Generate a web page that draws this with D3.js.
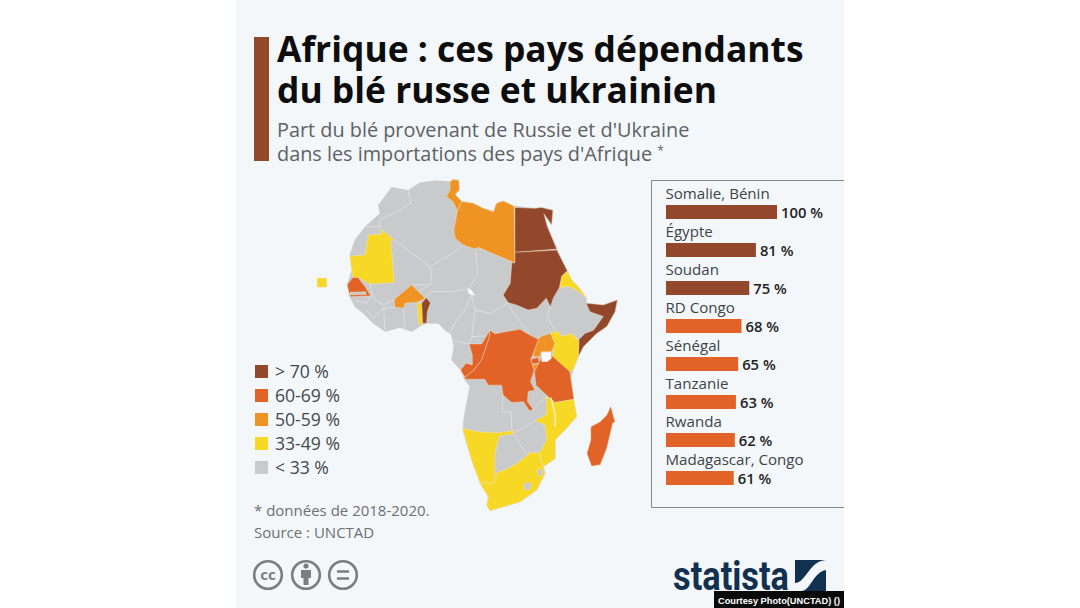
<!DOCTYPE html>
<html lang="fr">
<head>
<meta charset="utf-8">
<title>Afrique : blé russe et ukrainien</title>
<script src="https://cdn.jsdelivr.net/npm/d3@7/dist/d3.min.js"></script>
<style>
html, body { margin: 0; padding: 0; background: #fff; }
svg { display: block; }
text { font-family: "Open Sans", sans-serif; }
.map { filter: blur(0.45px); }
</style>
</head>
<body>
<div class="chart"></div>
<script>
// ---- data ----
var categories = ['Somalie, Bénin', 'Égypte', 'Soudan', 'RD Congo', 'Sénégal', 'Tanzanie', 'Rwanda', 'Madagascar, Congo']
var values = [100, 81, 75, 68, 65, 63, 62, 61]

var legendLabels = ['> 70 %', '60-69 %', '50-59 %', '33-49 %', '< 33 %']
var legendValues = [75, 65, 55, 40, 20]

// map outlines, as [lon, lat]
var africa = [[-6.3,35.7],[-2.1,35.0],[0.9,36.7],[5.2,37.15],[8.6,36.9],[9.4,37.4],[10.7,37.3],[11.0,35.1],[9.9,34.0],[11.6,32.6],[14.6,32.2],[17.1,31.1],[19.7,30.4],[20.5,32.2],[22.2,32.7],[24.8,31.6],[30.3,31.1],[32.0,31.3],[34.9,30.7],[34.6,27.5],[32.6,29.9],[33.5,27.1],[35.9,22.4],[37.2,19.8],[38.6,17.5],[39.7,15.5],[41.8,13.6],[43.5,11.5],[43.4,10.4],[47.8,10.0],[51.4,11.1],[50.8,8.5],[48.7,5.3],[46.1,3.8],[42.7,0.9],[41.4,-1.3],[40.1,-4.2],[39.5,-6.0],[40.1,-10.4],[41.0,-14.4],[38.4,-16.9],[35.5,-19.5],[35.5,-23.5],[32.5,-25.3],[32.9,-26.8],[30.8,-30.4],[26.5,-33.0],[18.8,-34.9],[18.0,-33.7],[18.4,-31.9],[16.3,-28.9],[14.1,-23.8],[12.0,-17.7],[12.0,-16.2],[12.2,-14.4],[13.7,-7.8],[12.4,-6.4],[11.3,-4.2],[9.0,-2.0],[9.6,0.9],[9.0,3.4],[8.6,3.8],[7.3,4.5],[5.6,6.0],[2.6,6.0],[1.4,5.6],[-1.2,4.2],[-4.2,5.1],[-8.0,4.2],[-11.0,6.0],[-13.6,8.2],[-15.7,9.6],[-17.0,11.8],[-17.7,14.4],[-16.5,17.6],[-17.0,20.9],[-15.7,24.2],[-13.1,27.1],[-9.3,30.0],[-9.7,31.8]]

var mauritania = [[-17.0,20.7],[-13.1,20.9],[-12.3,25.3],[-8.9,25.5],[-8.9,26.5],[-5.9,24.3],[-6.6,24.0],[-5.6,14.9],[-11.9,14.6],[-14.9,16.0],[-16.3,16.0],[-16.5,17.6]]
var senegal = [[-16.3,16.0],[-14.9,16.0],[-13.1,14.0],[-11.7,12.0],[-17.0,11.8],[-17.7,14.4]]
var gambia = [[-17.0,12.8],[-12.9,12.9],[-12.9,12.3],[-17.0,12.2]]
var burkina = [[-1.2,14.4],[0.5,12.9],[2.2,11.5],[0.2,10.6],[-2.9,10.4],[-3.3,9.3],[-5.5,9.5],[-5.7,11.2],[-3.3,12.9]]
var togo = [[0.2,10.4],[1.35,10.5],[1.6,5.9],[0.6,5.7]]
var benin = [[2.5,11.6],[3.6,10.5],[2.8,8.5],[2.6,6.0],[1.6,6.0],[1.35,10.4]]
var tunisia = [[8.6,36.9],[9.4,37.4],[10.9,37.2],[11.0,35.1],[9.9,34.2],[11.6,32.6],[10.5,30.6],[9.3,32.6],[7.7,33.7],[8.6,35.1]]
var libya = [[11.6,32.6],[14.6,32.2],[17.1,31.1],[19.7,30.4],[20.5,32.2],[22.2,32.7],[25.0,31.6],[25.2,19.2],[23.5,19.8],[15.8,22.6],[15.0,22.2],[12.0,23.1],[9.9,24.6],[9.6,26.4],[10.5,30.6]]
var egypt = [[25.2,31.3],[30.3,31.1],[32.0,31.3],[34.9,30.7],[34.6,27.5],[32.6,29.9],[33.5,27.1],[35.9,22.2],[25.2,21.5]]
var sudan = [[25.2,21.5],[35.9,22.0],[37.2,19.8],[38.6,17.5],[37.2,16.3],[36.6,13.9],[35.0,11.5],[34.3,9.6],[33.2,11.5],[30.8,9.3],[28.6,8.9],[25.6,10.0],[23.5,10.5],[22.2,12.2],[24.0,14.7],[24.4,19.2],[25.2,19.2]]
var eritrea = [[38.6,17.3],[39.7,15.5],[41.8,13.6],[43.5,11.5],[41.2,13.1],[39.3,14.0],[36.7,13.9],[37.2,16.3]]
var somalia = [[43.4,10.4],[47.8,10.0],[51.4,11.1],[50.8,8.5],[48.7,5.3],[46.1,3.8],[42.7,0.9],[41.4,-1.3],[41.4,2.0],[41.5,2.4],[43.1,3.8],[45.3,4.5],[47.8,7.5],[44.4,8.5]]
var kenya = [[34.3,3.95],[36.3,4.2],[36.9,3.2],[39.7,3.7],[41.6,2.2],[41.4,-1.3],[40.1,-4.2],[39.3,-4.6],[34.6,-1.9],[35.0,0.2],[35.45,1.6]]
var uganda = [[31.2,2.7],[32.0,3.2],[34.3,3.8],[35.45,1.6],[34.6,-0.2],[32.0,-0.2],[31.6,-1.3],[29.9,-1.3],[30.1,-0.2]]
var rwanda = [[29.2,-1.9],[31.2,-1.4],[31.4,-2.7],[29.7,-2.9]]
var burundi = [[29.7,-3.0],[31.2,-2.9],[30.8,-4.2],[30.1,-4.3]]
var congo = [[18.8,4.5],[18.7,3.1],[18.0,1.3],[16.7,-2.0],[14.6,-4.3],[12.4,-5.8],[11.3,-4.2],[12.7,-2.7],[14.3,-3.1],[14.3,-0.9],[13.5,1.5],[16.7,1.5]]
var drc = [[18.8,4.5],[20.1,3.7],[23.1,4.2],[26.5,4.7],[29.1,3.4],[31.2,2.5],[29.9,-0.6],[29.2,-1.9],[29.7,-3.1],[30.1,-4.3],[29.2,-6.7],[30.3,-8.6],[28.6,-8.9],[28.4,-11.1],[29.9,-12.8],[28.9,-13.1],[27.4,-11.1],[24.4,-11.3],[22.2,-9.7],[21.8,-7.5],[18.4,-7.5],[17.5,-6.2],[12.4,-6.2],[12.4,-5.8],[14.6,-4.3],[16.7,-2.0],[18.0,1.3],[18.7,3.1]]
var tanzania = [[34.6,-1.0],[39.3,-4.6],[39.5,-6.0],[40.3,-10.6],[35.45,-11.3],[33.3,-9.7],[30.6,-7.5],[30.2,-4.6],[31.2,-2.9],[32.0,-1.3]]
var mozambique = [[33.3,-9.9],[35.45,-11.3],[40.3,-10.6],[41.0,-14.4],[38.4,-16.9],[35.5,-19.5],[35.5,-23.5],[32.5,-25.3],[31.4,-22.4],[33.3,-19.5],[32.9,-16.2],[30.3,-15.3],[33.2,-14.0]]
var namibia = [[11.8,-16.9],[15.8,-17.7],[21.0,-17.9],[24.8,-17.4],[24.6,-18.2],[21.2,-18.6],[20.1,-22.4],[20.1,-28.9],[16.3,-28.9],[14.1,-23.8]]
var southAfrica = [[20.5,-26.6],[23.5,-25.7],[26.9,-23.9],[29.1,-22.2],[31.4,-22.3],[32.3,-25.3],[32.9,-26.8],[30.8,-30.4],[26.5,-33.0],[18.8,-34.9],[18.0,-33.7],[18.4,-31.9],[16.3,-28.9],[20.1,-28.9]]
var eswatini = [[30.9,-26.0],[31.6,-25.7],[32.4,-26.4],[32.0,-27.3],[31.2,-27.3]]
var lesotho = [[27.4,-29.3],[28.4,-28.6],[29.5,-29.1],[28.9,-30.4],[27.8,-30.4]]
var madagascar = [[49.7,-12.1],[50.8,-15.5],[50.2,-15.8],[48.7,-21.3],[47.0,-24.9],[44.8,-25.2],[43.6,-22.4],[44.6,-19.5],[44.6,-16.6],[47.0,-15.5],[48.7,-14.0]]
var capeVerde = [[-25.4,15.9],[-22.9,15.9],[-22.9,13.9],[-25.4,13.9]]

var lakeVictoria = [[32.0,-0.3],[34.3,-0.3],[34.6,-1.65],[33.5,-2.4],[32.0,-2.4]]
var lakeChad = [[13.1,13.6],[14.1,13.3],[15.0,12.0],[14.1,12.2],[13.3,12.6]]
var lakes = [lakeVictoria, lakeChad]

// share of wheat per country. outside the bar list these are guessed from the legend class
var countries = [
    {shape: mauritania, share: 40}, {shape: senegal, share: 65}, {shape: gambia, share: 20},
    {shape: burkina, share: 55}, {shape: togo, share: 40}, {shape: benin, share: 100},
    {shape: tunisia, share: 55}, {shape: libya, share: 55}, {shape: egypt, share: 81},
    {shape: sudan, share: 75}, {shape: eritrea, share: 40}, {shape: somalia, share: 100},
    {shape: kenya, share: 40}, {shape: uganda, share: 55}, {shape: rwanda, share: 62},
    {shape: burundi, share: 55}, {shape: congo, share: 61}, {shape: drc, share: 68},
    {shape: tanzania, share: 63}, {shape: mozambique, share: 40}, {shape: namibia, share: 40},
    {shape: southAfrica, share: 40}, {shape: eswatini, share: 20}, {shape: lesotho, share: 20},
    {shape: madagascar, share: 61}, {shape: capeVerde, share: 40}
]

// borders between the grey countries
var borders = [
    [[-2.1,35.0],[-1.4,32.2],[-5.0,30.4],[-9.3,28.6],[-9.3,26.5]],
    [[-13.1,27.1],[-8.9,27.1]],
    [[-5.9,24.3],[3.5,18.4],[11.6,22.6],[12.0,23.1]],
    [[3.5,18.4],[3.9,16.2],[3.5,14.4],[0.5,12.9]],
    [[-1.2,14.4],[3.5,14.4]],
    [[-11.9,14.6],[-11.0,11.5],[-8.4,10.0],[-5.7,11.2]],
    [[2.5,11.6],[3.9,12.9],[9.4,12.9],[13.7,13.6]],
    [[15.0,22.2],[15.8,16.9],[13.3,13.3]],
    [[14.1,12.2],[12.4,8.9],[10.3,6.7],[8.6,3.8]],
    [[14.1,12.2],[15.0,8.9],[18.8,8.2],[23.5,10.5]],
    [[15.0,8.9],[14.2,3.1],[13.5,1.5]],
    [[9.0,2.35],[13.5,1.5]],
    [[14.2,3.1],[18.8,3.3]],
    [[-3.3,9.3],[-2.9,4.7]],
    [[-5.5,9.5],[-8.4,9.3],[-8.0,4.2]],
    [[-8.4,9.3],[-11.0,7.1],[-13.0,9.0]],
    [[-15.7,11.0],[-12.7,10.4],[-11.7,12.0]],
    [[34.3,9.6],[33.3,7.5],[35.9,3.8],[34.3,3.95]],
    [[35.9,3.8],[31.2,2.7]],
    [[23.5,10.5],[24.8,8.2],[28.2,4.5],[29.1,3.4]],
    [[41.5,2.4],[39.7,3.7]],
    [[22.2,-9.7],[21.8,-13.3],[24.2,-13.3],[24.4,-17.3]],
    [[24.6,-18.0],[27.8,-16.6],[30.3,-15.3]],
    [[25.2,-18.4],[27.8,-22.4],[29.1,-22.2]],
    [[28.9,-13.1],[29.9,-12.8],[33.3,-9.9]],
    [[34.4,-10.2],[35.5,-14.0],[35.5,-16.6]]
]

// ---- page ----
var width = 1080, height = 608
var brown = '#93482c', red = '#e26328', orange = '#ef9324', yellow = '#f7d824', grey = '#c9cacb'
var navy = '#12304f'

var svg = d3.select('.chart')
    .append('svg')
    .attr('width', width)
    .attr('height', height)

svg.append('rect')
    .attr('x', 236)
    .attr('y', 0)
    .attr('width', 608)
    .attr('height', height)
    .attr('fill', '#f4f7fa')

// title block
svg.append('rect')
    .attr('x', 254)
    .attr('y', 37)
    .attr('width', 15)
    .attr('height', 124)
    .attr('fill', brown)

var titleLines = ['Afrique : ces pays dépendants', 'du blé russe et ukrainien']
svg.selectAll('.title')
    .data(titleLines)
    .enter()
    .append('text')
    .attr('class', 'title')
    .attr('x', 277)
    .attr('y', function (d, i) { return 62 + i * 41 })
    .attr('font-size', 35.4)
    .attr('font-weight', 700)
    .attr('fill', '#0d0d0d')
    .text(function (d) { return d })

svg.append('text')
    .attr('x', 277)
    .attr('y', 137)
    .attr('font-size', 19.85)
    .attr('fill', '#5c6165')
    .text("Part du blé provenant de Russie et d'Ukraine")

var sub2 = svg.append('text')
    .attr('x', 277)
    .attr('y', 161)
    .attr('font-size', 19.85)
    .attr('fill', '#5c6165')
    .text("dans les importations des pays d'Afrique ")
sub2.append('tspan')
    .attr('font-size', 12)
    .attr('dy', -6)
    .text('*')

// ---- map ----
var colorScale = d3.scaleThreshold()
    .domain([33, 50, 60, 70])
    .range([grey, yellow, orange, red, brown])

var lonScale = d3.scaleLinear().domain([-20, 50]).range([338.2, 611.9])
var latScale = d3.scaleLinear().domain([-30, 30]).range([488.2, 213.4])

var outline = d3.line()
    .x(function (d) { return lonScale(d[0]) })
    .y(function (d) { return latScale(d[1]) })

function closedPath(d) {
    return outline(d) + 'Z'
}

var map = svg.append('g').attr('class', 'map')

map.append('path')
    .attr('d', closedPath(africa))
    .attr('fill', grey)
    .attr('stroke', grey)
    .attr('stroke-width', 0.6)
    .attr('stroke-linejoin', 'round')

map.selectAll('.border')
    .data(borders)
    .enter()
    .append('path')
    .attr('class', 'border')
    .attr('d', outline)
    .attr('fill', 'none')
    .attr('stroke', '#e2e5e8')
    .attr('stroke-width', 0.7)

map.selectAll('.country')
    .data(countries)
    .enter()
    .append('path')
    .attr('class', 'country')
    .attr('d', function (d) { return closedPath(d.shape) })
    .attr('fill', function (d) { return colorScale(d.share) })
    .attr('stroke', '#f6e9c8')
    .attr('stroke-width', 0.4)
    .attr('stroke-linejoin', 'round')

map.selectAll('.lake')
    .data(lakes)
    .enter()
    .append('path')
    .attr('class', 'lake')
    .attr('d', closedPath)
    .attr('fill', '#f8fafc')

// lake Malawi sits on top of the yellow
map.append('path')
    .attr('d', outline(borders[borders.length - 1]))
    .attr('fill', 'none')
    .attr('stroke', '#f4f3dc')
    .attr('stroke-width', 1.2)

// ---- legend ----
var legendY = d3.scaleBand()
    .domain(legendLabels)
    .range([360, 480])

var legend = svg.selectAll('.legend')
    .data(legendLabels)
    .enter()
    .append('g')
    .attr('class', 'legend')
    .attr('transform', function (d) { return 'translate(255,' + legendY(d) + ')' })

legend.append('rect')
    .attr('y', 5)
    .attr('width', 13)
    .attr('height', 13)
    .attr('fill', function (d, i) { return colorScale(legendValues[i]) })

legend.append('text')
    .attr('x', 20)
    .attr('y', 18)
    .attr('font-size', 17.6)
    .attr('fill', '#43484c')
    .text(function (d) { return d })

// ---- bars ----
svg.append('path')
    .attr('d', 'M844,180.5H651.5V507.5H844')
    .attr('fill', 'none')
    .attr('stroke', '#84888b')
    .attr('stroke-width', 1)

var xScale = d3.scaleLinear()
    .domain([0, 100])
    .range([0, 111])

var yScale = d3.scaleBand()
    .domain(categories)
    .range([186, 490])

var rows = svg.selectAll('.row')
    .data(categories)
    .enter()
    .append('g')
    .attr('class', 'row')
    .attr('transform', function (d) { return 'translate(666,' + yScale(d) + ')' })

rows.append('text')
    .attr('x', -0.5)
    .attr('y', 13)
    .attr('font-size', 15.1)
    .attr('fill', '#3d4347')
    .text(function (d) { return d })

rows.append('rect')
    .attr('y', 19)
    .attr('height', 14)
    .attr('width', function (d, i) { return xScale(values[i]) })
    .attr('fill', function (d, i) { return colorScale(values[i]) })

rows.append('text')
    .attr('x', function (d, i) { return xScale(values[i]) + 4 })
    .attr('y', 32)
    .attr('font-size', 14.8)
    .attr('font-weight', 600)
    .attr('fill', '#222')
    .text(function (d, i) { return values[i] + ' %' })

// ---- footer ----
var notes = ['* données de 2018-2020.', 'Source : UNCTAD']
svg.selectAll('.note')
    .data(notes)
    .enter()
    .append('text')
    .attr('class', 'note')
    .attr('x', 254)
    .attr('y', function (d, i) { return 516 + i * 22 })
    .attr('font-size', 15)
    .attr('fill', '#6b7074')
    .text(function (d) { return d })

var iconColor = '#7a7e81'
var iconX = [268, 306, 343]
svg.selectAll('.cc')
    .data(iconX)
    .enter()
    .append('circle')
    .attr('class', 'cc')
    .attr('cx', function (d) { return d })
    .attr('cy', 575)
    .attr('r', 13.8)
    .attr('fill', 'none')
    .attr('stroke', iconColor)
    .attr('stroke-width', 2.6)

svg.append('text')
    .attr('x', 268)
    .attr('y', 580)
    .attr('text-anchor', 'middle')
    .attr('font-size', 15)
    .attr('font-weight', 700)
    .attr('fill', iconColor)
    .text('cc')

svg.append('circle')
    .attr('cx', 306)
    .attr('cy', 566)
    .attr('r', 2.6)
    .attr('fill', iconColor)
svg.append('path')
    .attr('d', 'M301,570H311V578H308.5V585H303.5V578H301Z')
    .attr('fill', iconColor)

svg.append('path')
    .attr('d', 'M337,571.5H349M337,578.5H349')
    .attr('stroke', iconColor)
    .attr('stroke-width', 2.6)

// statista logo
svg.append('text')
    .attr('x', 673)
    .attr('y', 590)
    .style('font-family', '"Liberation Sans Narrow", "Roboto", sans-serif')
    .attr('font-size', 40)
    .attr('font-weight', 700)
    .attr('fill', navy)
    .attr('textLength', 116)
    .attr('lengthAdjust', 'spacingAndGlyphs')
    .text('statista')

svg.append('rect')
    .attr('x', 795)
    .attr('y', 560)
    .attr('width', 31)
    .attr('height', 31)
    .attr('fill', navy)
svg.append('path')
    .attr('d', 'M795,583C806,583 809,561 826,560V570C813,572 811,591 801,591H795Z')
    .attr('fill', '#f4f7fa')

// photo credit
svg.append('rect')
    .attr('x', 714)
    .attr('y', 591)
    .attr('width', 130)
    .attr('height', 17)
    .attr('fill', '#0a0a0a')
svg.append('text')
    .attr('x', 718)
    .attr('y', 603.5)
    .style('font-family', '"Liberation Sans", sans-serif')
    .attr('font-size', 9.6)
    .attr('font-weight', 700)
    .attr('fill', '#fff')
    .attr('textLength', 122)
    .attr('lengthAdjust', 'spacingAndGlyphs')
    .text('Courtesy Photo(UNCTAD) ()')
</script>
</body>
</html>
